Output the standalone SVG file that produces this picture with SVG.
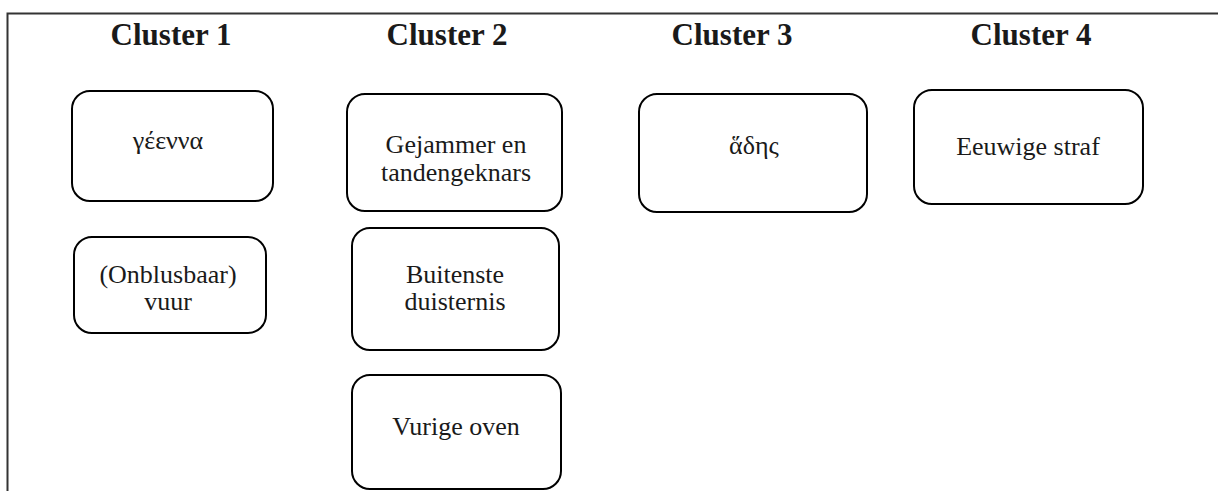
<svg xmlns="http://www.w3.org/2000/svg" width="1218" height="491" viewBox="0 0 1218 491">
  <style>
    .head { font-family: "Liberation Serif", "Times New Roman", serif; font-weight: bold; font-size: 31px; fill: #1a1a1a; text-anchor: middle; }
    .box { fill: #ffffff; stroke: #000000; stroke-width: 2; }
    .lbl { font-family: "Liberation Serif", "Times New Roman", serif; font-size: 26px; fill: #1a1a1a; text-anchor: middle; }
  </style>
  <rect width="1218" height="491" fill="#ffffff"/>
  <!-- frame: top and left edges -->
  <path d="M7.5 495 V13.5 H1220" fill="none" stroke="#333333" stroke-width="2"/>

  <!-- column headings -->
  <text class="head" x="171" y="45">Cluster 1</text>
  <text class="head" x="447" y="45">Cluster 2</text>
  <text class="head" x="732" y="45">Cluster 3</text>
  <text class="head" x="1031" y="45">Cluster 4</text>

  <g id="gehenna">
    <rect class="box" x="72" y="91" width="201" height="110" rx="18"/>
    <text class="lbl" x="168" y="149">γέεννα</text>
  </g>
  <g id="vuur">
    <rect class="box" x="74" y="237" width="192" height="96" rx="18"/>
    <text class="lbl" x="168" y="283">(Onblusbaar)</text>
    <text class="lbl" x="168" y="310">vuur</text>
  </g>
  <g id="gejammer">
    <rect class="box" x="347" y="94" width="215" height="117" rx="18"/>
    <text class="lbl" x="456" y="153">Gejammer en</text>
    <text class="lbl" x="456" y="181">tandengeknars</text>
  </g>
  <g id="duisternis">
    <rect class="box" x="352" y="228" width="207" height="122" rx="18"/>
    <text class="lbl" x="455" y="283">Buitenste</text>
    <text class="lbl" x="455" y="310">duisternis</text>
  </g>
  <g id="oven">
    <rect class="box" x="352" y="375" width="209" height="114" rx="18"/>
    <text class="lbl" x="456" y="435">Vurige oven</text>
  </g>
  <g id="hades">
    <rect class="box" x="639" y="94" width="228" height="118" rx="18"/>
    <text class="lbl" x="754" y="154">ἅδης</text>
  </g>
  <g id="straf">
    <rect class="box" x="914" y="90" width="229" height="114" rx="18"/>
    <text class="lbl" x="1028" y="155">Eeuwige straf</text>
  </g>
  <g id="connectors"></g>
</svg>
